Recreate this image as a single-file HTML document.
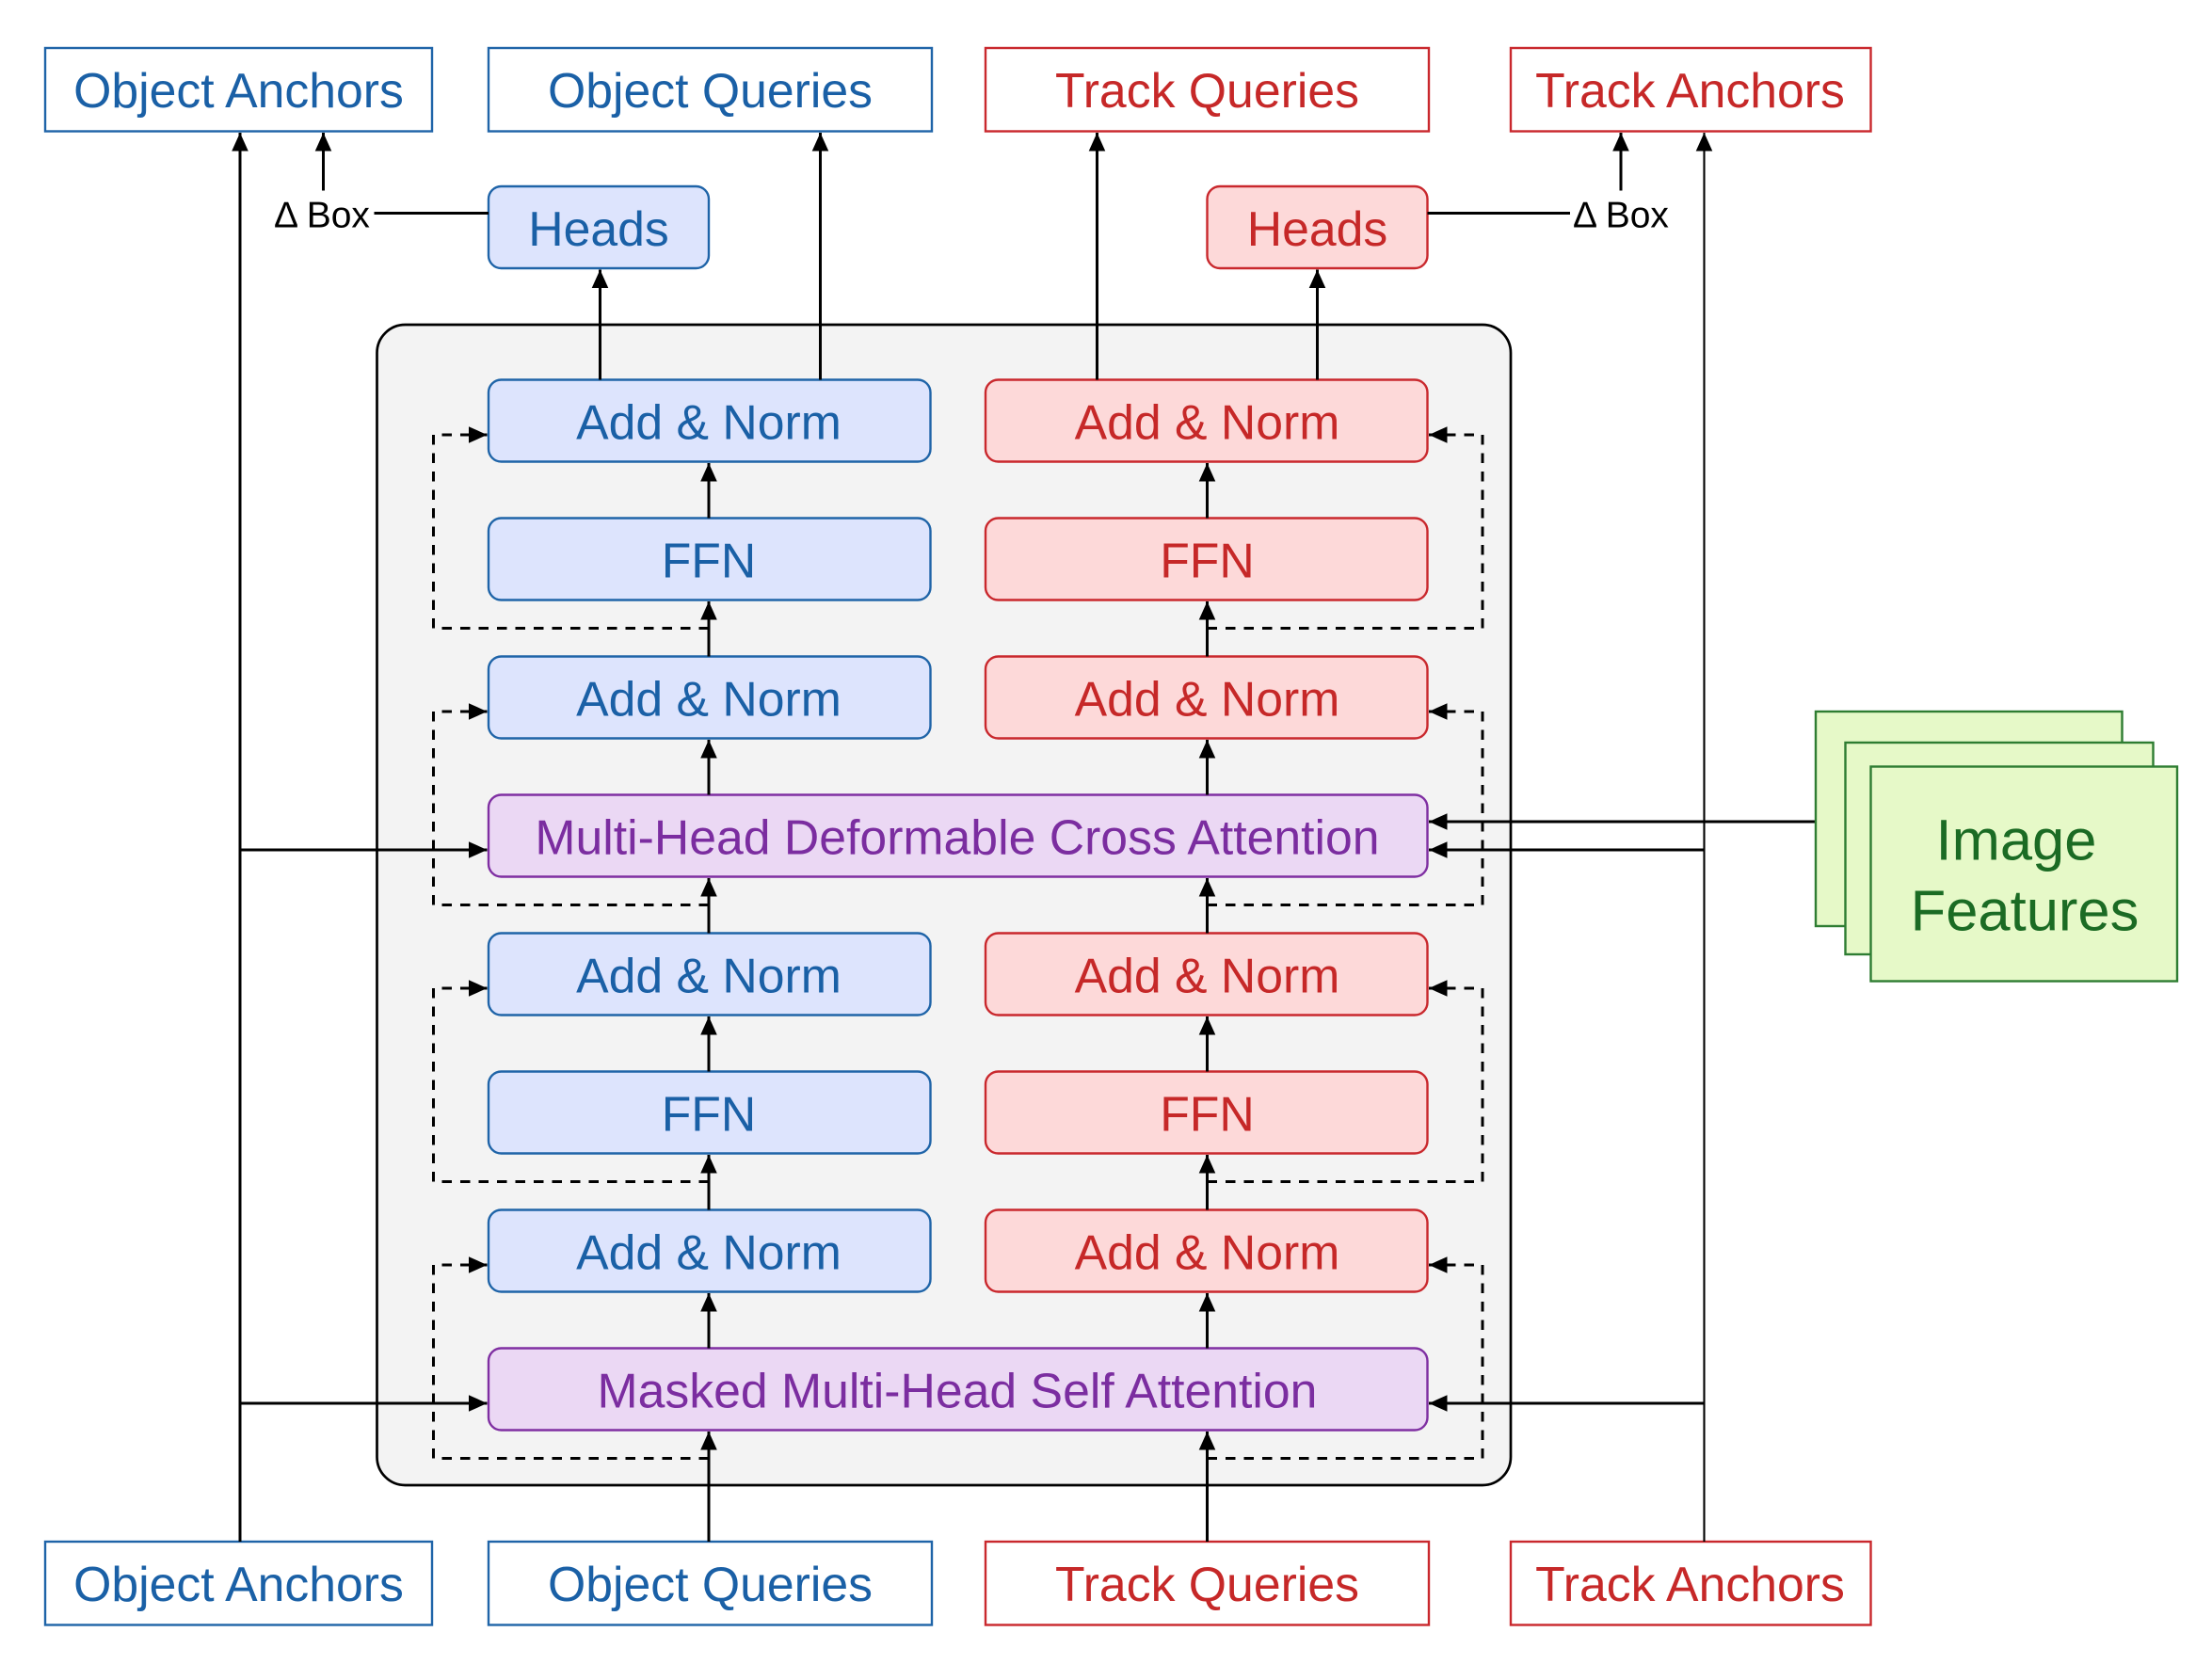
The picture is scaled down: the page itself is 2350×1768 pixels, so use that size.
<!DOCTYPE html>
<html><head><meta charset="utf-8"><style>
html,body{margin:0;padding:0;background:#fff}
svg{display:block}
text{font-family:"Liberation Sans",Arial,sans-serif}
.b{fill:#dde4fd;stroke:#1f64a8;stroke-width:1.6}
.r{fill:#fdd9d9;stroke:#c9282d;stroke-width:1.6}
.p{fill:#ebd8f4;stroke:#7f2fa2;stroke-width:1.6}
.bo{fill:#fff;stroke:#1f64a8;stroke-width:1.6}
.ro{fill:#fff;stroke:#c9282d;stroke-width:1.6}
.tb{fill:#1a60a6;font-size:34.5px;text-anchor:middle}
.tr{fill:#c62828;font-size:34.5px;text-anchor:middle}
.tp{fill:#7b2da0;font-size:34.5px;text-anchor:middle}
.l{stroke:#000;stroke-width:2;fill:none}
.d{stroke:#000;stroke-width:2;fill:none;stroke-dasharray:7,6}
.g{fill:#e6f9c8;stroke:#2e7d32;stroke-width:1.6}
</style></head><body>
<svg width="2350" height="1768" viewBox="0 0 1566.67 1178.67" xmlns="http://www.w3.org/2000/svg">
<defs>
<marker id="a" viewBox="0 0 10 10" refX="10" refY="5" markerWidth="13" markerHeight="13" markerUnits="userSpaceOnUse" orient="auto">
<path d="M0,0.5 L10,5 L0,9.5 z" fill="#000"/></marker>
</defs>
<rect x="267" y="230" width="803" height="822" rx="20" fill="#f3f3f3" stroke="#000" stroke-width="1.8"/>

<rect class="bo" x="32" y="34" width="274" height="59"/><text class="tb" x="169" y="76">Object Anchors</text>
<rect class="bo" x="346" y="34" width="314" height="59"/><text class="tb" x="503" y="76">Object Queries</text>
<rect class="ro" x="698" y="34" width="314" height="59"/><text class="tr" x="855" y="76">Track Queries</text>
<rect class="ro" x="1070" y="34" width="255" height="59"/><text class="tr" x="1197" y="76">Track Anchors</text>
<rect class="bo" x="32" y="1092" width="274" height="59"/><text class="tb" x="169" y="1134">Object Anchors</text>
<rect class="bo" x="346" y="1092" width="314" height="59"/><text class="tb" x="503" y="1134">Object Queries</text>
<rect class="ro" x="698" y="1092" width="314" height="59"/><text class="tr" x="855" y="1134">Track Queries</text>
<rect class="ro" x="1070" y="1092" width="255" height="59"/><text class="tr" x="1197" y="1134">Track Anchors</text>

<rect class="b" x="346" y="132" width="156" height="58" rx="9"/><text class="tb" x="424" y="174">Heads</text>
<rect class="r" x="855" y="132" width="156" height="58" rx="9"/><text class="tr" x="933" y="174">Heads</text>
<text x="228" y="161" font-size="26" text-anchor="middle">Δ Box</text>
<text x="1148" y="161" font-size="26" text-anchor="middle">Δ Box</text>
<line class="l" x1="265" y1="151" x2="346" y2="151"/>
<line class="l" x1="1011" y1="151" x2="1112" y2="151"/>
<line class="l" x1="229" y1="135" x2="229" y2="94" marker-end="url(#a)"/>
<line class="l" x1="1148" y1="135" x2="1148" y2="94" marker-end="url(#a)"/>

<g>
<rect class="b" x="346" y="269" width="313" height="58" rx="9"/><text class="tb" x="502" y="311">Add &amp; Norm</text>
<rect class="b" x="346" y="367" width="313" height="58" rx="9"/><text class="tb" x="502" y="409">FFN</text>
<rect class="b" x="346" y="465" width="313" height="58" rx="9"/><text class="tb" x="502" y="507">Add &amp; Norm</text>
<rect class="b" x="346" y="661" width="313" height="58" rx="9"/><text class="tb" x="502" y="703">Add &amp; Norm</text>
<rect class="b" x="346" y="759" width="313" height="58" rx="9"/><text class="tb" x="502" y="801">FFN</text>
<rect class="b" x="346" y="857" width="313" height="58" rx="9"/><text class="tb" x="502" y="899">Add &amp; Norm</text>
<rect class="r" x="698" y="269" width="313" height="58" rx="9"/><text class="tr" x="855" y="311">Add &amp; Norm</text>
<rect class="r" x="698" y="367" width="313" height="58" rx="9"/><text class="tr" x="855" y="409">FFN</text>
<rect class="r" x="698" y="465" width="313" height="58" rx="9"/><text class="tr" x="855" y="507">Add &amp; Norm</text>
<rect class="r" x="698" y="661" width="313" height="58" rx="9"/><text class="tr" x="855" y="703">Add &amp; Norm</text>
<rect class="r" x="698" y="759" width="313" height="58" rx="9"/><text class="tr" x="855" y="801">FFN</text>
<rect class="r" x="698" y="857" width="313" height="58" rx="9"/><text class="tr" x="855" y="899">Add &amp; Norm</text>
<rect class="p" x="346" y="563" width="665" height="58" rx="9"/><text class="tp" x="678" y="605">Multi-Head Deformable Cross Attention</text>
<rect class="p" x="346" y="955" width="665" height="58" rx="9"/><text class="tp" x="678" y="997">Masked Multi-Head Self Attention</text>
</g>

<g class="l">
<line x1="502" y1="1092" x2="502" y2="1014" marker-end="url(#a)"/>
<line x1="855" y1="1092" x2="855" y2="1014" marker-end="url(#a)"/>
<line x1="502" y1="955" x2="502" y2="916" marker-end="url(#a)"/>
<line x1="855" y1="955" x2="855" y2="916" marker-end="url(#a)"/>
<line x1="502" y1="857" x2="502" y2="818" marker-end="url(#a)"/>
<line x1="855" y1="857" x2="855" y2="818" marker-end="url(#a)"/>
<line x1="502" y1="759" x2="502" y2="720" marker-end="url(#a)"/>
<line x1="855" y1="759" x2="855" y2="720" marker-end="url(#a)"/>
<line x1="502" y1="661" x2="502" y2="622" marker-end="url(#a)"/>
<line x1="855" y1="661" x2="855" y2="622" marker-end="url(#a)"/>
<line x1="502" y1="563" x2="502" y2="524" marker-end="url(#a)"/>
<line x1="855" y1="563" x2="855" y2="524" marker-end="url(#a)"/>
<line x1="502" y1="465" x2="502" y2="426" marker-end="url(#a)"/>
<line x1="855" y1="465" x2="855" y2="426" marker-end="url(#a)"/>
<line x1="502" y1="367" x2="502" y2="328" marker-end="url(#a)"/>
<line x1="855" y1="367" x2="855" y2="328" marker-end="url(#a)"/>
<line x1="425" y1="269" x2="425" y2="191" marker-end="url(#a)"/>
<line x1="581" y1="269" x2="581" y2="94" marker-end="url(#a)"/>
<line x1="777" y1="269" x2="777" y2="94" marker-end="url(#a)"/>
<line x1="933" y1="269" x2="933" y2="191" marker-end="url(#a)"/>
</g>

<g class="d">
<polyline points="502,445 307,445 307,308 345,308" marker-end="url(#a)"/>
<polyline points="502,641 307,641 307,504 345,504" marker-end="url(#a)"/>
<polyline points="502,837 307,837 307,700 345,700" marker-end="url(#a)"/>
<polyline points="502,1033 307,1033 307,896 345,896" marker-end="url(#a)"/>
<polyline points="855,445 1050,445 1050,308 1012,308" marker-end="url(#a)"/>
<polyline points="855,641 1050,641 1050,504 1012,504" marker-end="url(#a)"/>
<polyline points="855,837 1050,837 1050,700 1012,700" marker-end="url(#a)"/>
<polyline points="855,1033 1050,1033 1050,896 1012,896" marker-end="url(#a)"/>
</g>

<g class="l">
<line x1="170" y1="1092" x2="170" y2="94" marker-end="url(#a)"/>
<line x1="170" y1="602" x2="345" y2="602" marker-end="url(#a)"/>
<line x1="170" y1="994" x2="345" y2="994" marker-end="url(#a)"/>
<line x1="1207" y1="1092" x2="1207" y2="94" stroke-width="1.4" marker-end="url(#a)"/>
<line x1="1207" y1="602" x2="1012" y2="602" marker-end="url(#a)"/>
<line x1="1207" y1="994" x2="1012" y2="994" marker-end="url(#a)"/>
<line x1="1286" y1="582" x2="1012" y2="582" marker-end="url(#a)"/>
</g>

<rect class="g" x="1286" y="504" width="217" height="152"/>
<rect class="g" x="1307" y="526" width="218" height="150"/>
<rect class="g" x="1325" y="543" width="217" height="152"/>
<text x="1428" y="609" font-size="41" fill="#1b6b24" text-anchor="middle">Image</text>
<text x="1434" y="659" font-size="41" fill="#1b6b24" text-anchor="middle">Features</text>
</svg>
</body></html>
